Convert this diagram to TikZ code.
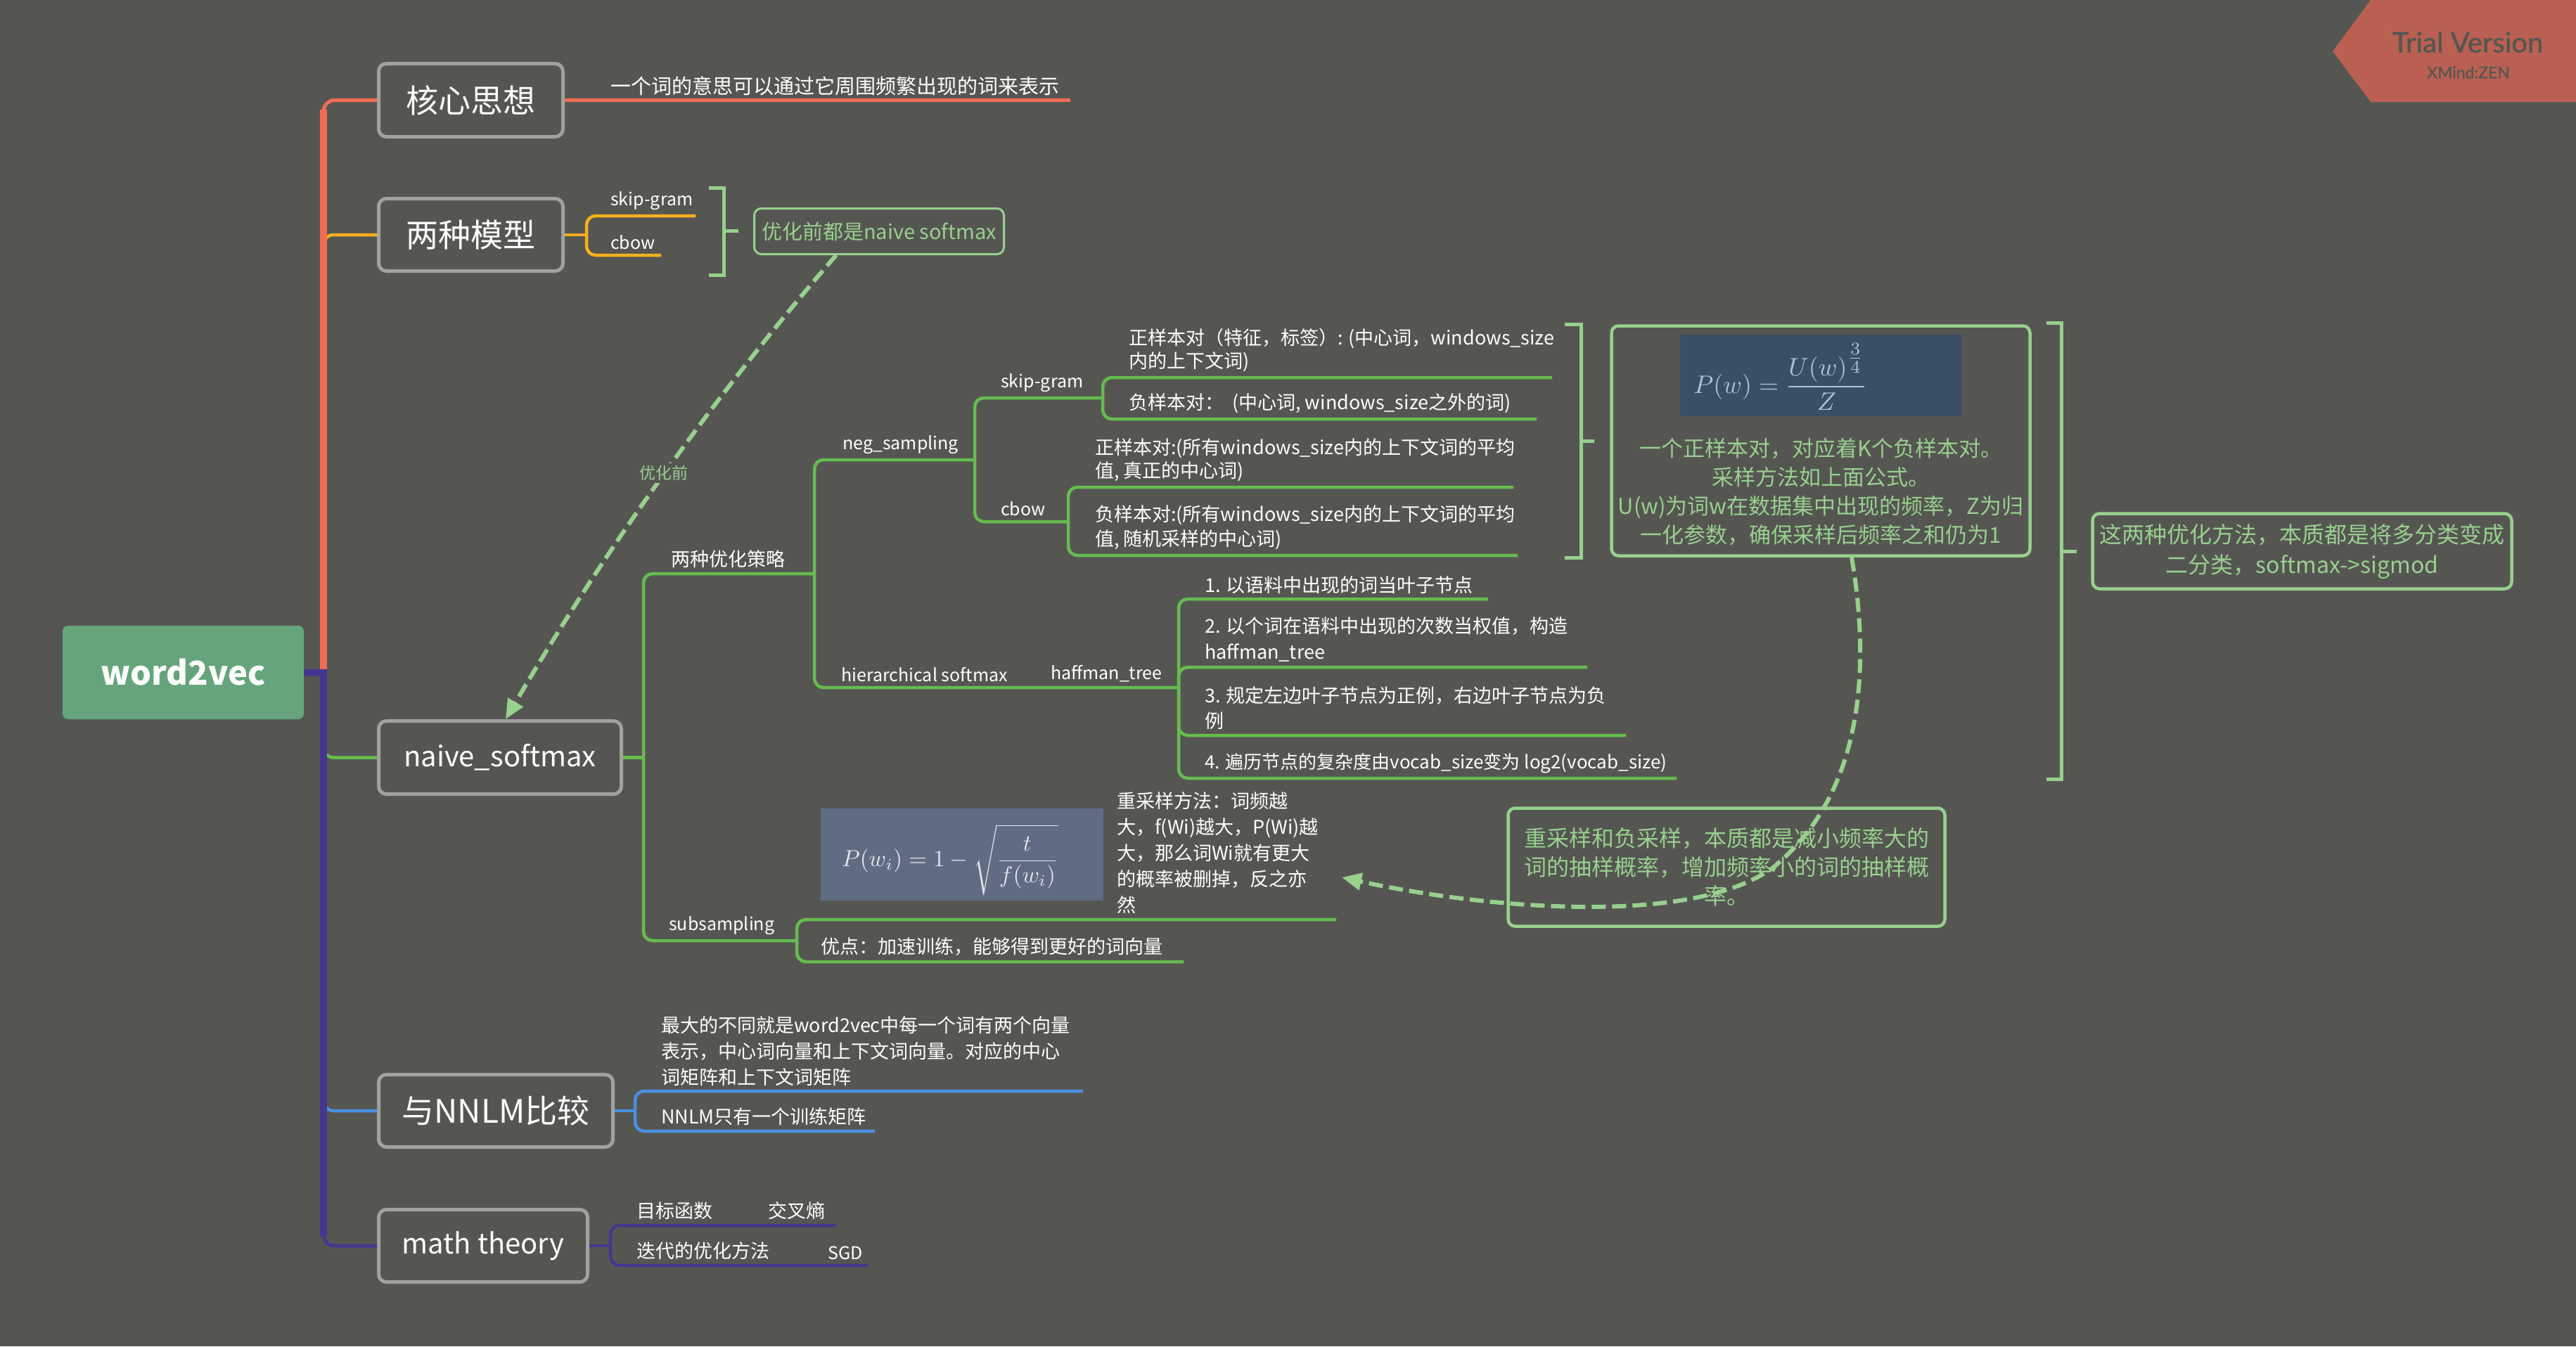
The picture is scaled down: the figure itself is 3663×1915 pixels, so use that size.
\documentclass[tikz,border=0pt]{standalone}
\usepackage{graphicx}
\usepackage{fontspec}
\setmainfont{Noto Sans CJK SC}
\newfontfamily\latofont{Lato}[FakeBold=1.2]
\usetikzlibrary{arrows.meta}
\definecolor{bg}{RGB}{85,86,82}
\definecolor{boxgray}{RGB}{160,162,157}
\definecolor{cred}{RGB}{242,108,85}
\definecolor{corange}{RGB}{245,176,30}
\definecolor{cgreen}{RGB}{102,188,79}
\definecolor{cblue}{RGB}{74,144,226}
\definecolor{cpurple}{RGB}{69,54,143}
\definecolor{lgreen}{RGB}{152,208,142}
\definecolor{rootgreen}{RGB}{102,165,123}
\definecolor{banner}{RGB}{186,96,82}
\definecolor{fonebg}{RGB}{58,78,102}
\definecolor{fonefg}{RGB}{168,196,222}
\definecolor{ftwobg}{RGB}{95,108,130}
\definecolor{ftwofg}{RGB}{228,231,236}
\newcommand{\myfs}[2]{\fontsize{#1}{#2}\selectfont}
\begin{document}
\begin{tikzpicture}[x=1pt,y=-1pt,
 topic/.style={draw=boxgray, line width=5pt, rounded corners=11pt, fill=bg, text=white, inner sep=0pt, font=\myfs{46}{55}},
 leaf/.style={text=white, inner sep=0pt, anchor=south west, align=left, font=\myfs{27}{35}},
 latinleaf/.style={leaf, font=\myfs{25}{32}},
 br/.style={line width=4.5pt, rounded corners=13pt},
 bracketline/.style={draw=lgreen, line width=5pt},
 callout/.style={draw=lgreen, line width=4.5pt, rounded corners=10pt, text=lgreen, align=center, inner sep=0pt, font=\myfs{32}{41}},
 dasharrow/.style={draw=lgreen, line width=6pt, dash pattern=on 20pt off 9pt, -{Triangle[length=28pt,width=24pt,fill=lgreen]}},
]
\useasboundingbox (0,0) rectangle (3663,1915);
\fill[bg] (0,0) rectangle (3663,1915);

% banner
\fill[banner] (3317,73) -- (3371,0) -- (3663,0) -- (3663,145) -- (3371,145) -- cycle;
\node[text=bg, inner sep=0pt, font=\latofont\myfs{40}{48}] (trial) at (3509,60) {Trial Version};
\node[text=bg, inner sep=0pt, font=\latofont\myfs{23}{26}] (xmind) at (3510,103) {XMind:ZEN};

% main topics
\node[fill=rootgreen, rounded corners=8pt, minimum width=343, minimum height=133, inner sep=0pt, text=white, font=\bfseries\myfs{47}{55}] (root) at (260.5,956.5) {word2vec};
\node[topic, minimum width=262, minimum height=104] (core) at (669.5,142.5) {核心思想};
\node[topic, minimum width=262, minimum height=103] (models) at (669.5,334) {两种模型};
\node[topic, minimum width=345, minimum height=104, font=\myfs{40}{48}] (naive) at (711,1077.5) {naive\_softmax};
\node[topic, minimum width=333, minimum height=103] (nnlm) at (705,1580) {与NNLM比较};
\node[topic, minimum width=297, minimum height=103, font=\myfs{40}{48}] (math) at (687,1772) {math theory};

% spine and main branches
\draw[corange, line width=4.5pt, rounded corners=14pt] (460,420) -- (460,334) -- (models.west);
\draw[cgreen, line width=4.5pt, rounded corners=14pt] (460,1000) -- (460,1077.5) -- (naive.west);
\draw[cblue, line width=4.5pt, rounded corners=14pt] (460,1450) -- (460,1580) -- (nnlm.west);
\draw[cred, line width=5pt, rounded corners=16pt] (460,200) -- (460,142.5) -- (core.west);
\draw[cred, line width=10pt] (460,952) -- (460,156);
\draw[cpurple, line width=5pt, rounded corners=16pt] (460,1700) -- (460,1772) -- (math.west);
\draw[cpurple, line width=10pt] (460,952) -- (460,1759);
\draw[cpurple, line width=10pt] (root.east) -- (465,957);

% core idea
\coordinate (coreend) at (1522,142.5);
\draw[cred, line width=4.5pt] (core.east) -- (coreend);
\node[leaf, font=\myfs{29}{35}] (coretxt) at (868,136) {一个词的意思可以通过它周围频繁出现的词来表示};

% two models
\coordinate (mv) at (834,334);
\draw[corange, line width=4.5pt] (models.east) -- (mv);
\draw[corange, br] (mv) -- (834,307) -- (989,307);
\draw[corange, br] (mv) -- (834,363) -- (940,363);
\node[latinleaf] (msg) at (868,299) {skip-gram};
\node[latinleaf] (mcb) at (868,355) {cbow};
\draw[bracketline] (1008,267) -- (1029,267) -- (1029,391) -- (1008,391);
\draw[bracketline] (1029,328) -- (1050,328);
\node[callout, line width=3pt, font=\myfs{29}{38}, minimum width=355, minimum height=65] (before) at (1250,329) {优化前都是naive softmax};

% naive_softmax subtree
\coordinate (nv) at (915,1077.5);
\draw[cgreen, line width=4.5pt] (naive.east) -- (nv);
\draw[cgreen, br] (nv) -- (915,816) -- (1158,816);
\draw[cgreen, br] (nv) -- (915,1338) -- (1133,1338);
\node[leaf] (twoopt) at (954,808) {两种优化策略};
\node[latinleaf] (subs) at (951,1330) {subsampling};

\draw[cgreen, br] (1158,816) -- (1158,654) -- (1386,654);
\draw[cgreen, br] (1158,816) -- (1158,978) -- (1676,978);
\node[latinleaf] (negs) at (1198,646) {neg\_sampling};
\node[latinleaf] (hier) at (1196,970) {hierarchical softmax};
\node[latinleaf] (haff) at (1494,970) {haffman\_tree};

\draw[cgreen, br] (1386,654) -- (1386,566) -- (1568,566);
\draw[cgreen, br] (1386,654) -- (1386,742) -- (1519,742);
\node[latinleaf] (nsg) at (1423,558) {skip-gram};
\node[latinleaf] (ncb) at (1423,734) {cbow};

\draw[cgreen, br] (1568,566) -- (1568,537) -- (2207,537);
\draw[cgreen, br] (1568,566) -- (1568,596) -- (2185,596);
\node[leaf, font=\myfs{27}{33}] (sgone) at (1605,529) {正样本对（特征，标签）: (中心词，windows\_size\\内的上下文词)};
\node[leaf] (sgtwo) at (1605,588) {负样本对：\ \ (中心词, windows\_size之外的词)};

\draw[cgreen, br] (1519,742) -- (1519,693) -- (2152,693);
\draw[cgreen, br] (1519,742) -- (1519,790) -- (2158,790);
\node[leaf, font=\myfs{27}{33}] (cbone) at (1557,685) {正样本对:(所有windows\_size内的上下文词的平均\\值, 真正的中心词)};
\node[leaf, font=\myfs{27}{35}] (cbtwo) at (1557,782) {负样本对:(所有windows\_size内的上下文词的平均\\值, 随机采样的中心词)};

\draw[cgreen, br] (1676,978) -- (1676,852) -- (2116,852);
\draw[cgreen, br] (1676,978) -- (1676,949) -- (2257,949);
\draw[cgreen, br] (1676,978) -- (1676,1046) -- (2312,1046);
\draw[cgreen, br] (1676,978) -- (1676,1107) -- (2384,1107);
\node[leaf] (hone) at (1713,845) {1. 以语料中出现的词当叶子节点};
\node[leaf, font=\myfs{27}{37}] (htwo) at (1713,941) {2. 以个词在语料中出现的次数当权值，构造\\haffman\_tree};
\node[leaf, font=\myfs{27}{36}] (hthree) at (1713,1038) {3. 规定左边叶子节点为正例，右边叶子节点为负\\例};
\node[leaf, font=\myfs{26}{34}] (hfour) at (1713,1100) {4. 遍历节点的复杂度由vocab\_size变为 log2(vocab\_size)};

% brackets and summaries
\draw[bracketline] (2225,461) -- (2248,461) -- (2248,793) -- (2225,793);
\draw[bracketline] (2248,627) -- (2267,627);
\node[callout, minimum width=595, minimum height=327] (negbox) at (2589,627) {};
\node[fill=fonebg, minimum width=400, minimum height=116, inner sep=0pt] (fone) at (2589,534) {};
\node[text=fonefg, inner sep=0pt] (fonetxt) at (2532,536) {\scalebox{3.6}{$\displaystyle P(w)=\frac{U(w)^{\textstyle\frac{3}{4}}}{Z}$}};
\node[text=lgreen, align=center, inner sep=0pt, font=\myfs{31}{41}] (negtxt) at (2589,700) {一个正样本对，对应着K个负样本对。\\采样方法如上面公式。\\U(w)为词w在数据集中出现的频率，Z为归\\一化参数，确保采样后频率之和仍为1};

\draw[bracketline] (2910,459) -- (2931,459) -- (2931,1108) -- (2910,1108);
\draw[bracketline] (2931,784) -- (2953,784);
\node[callout, minimum width=596, minimum height=107, font=\myfs{32}{43}] (twobox) at (3273.5,784) {这两种优化方法，本质都是将多分类变成\\二分类，softmax->sigmod};

% subsampling leaves
\draw[cgreen, br] (1133,1338) -- (1133,1308) -- (1900,1308);
\draw[cgreen, br] (1133,1338) -- (1133,1368) -- (1683,1368);
\node[fill=ftwobg, minimum width=402, minimum height=131, inner sep=0pt] (ftwo) at (1368,1215.5) {};
\node[text=ftwofg, inner sep=0pt] (ftwotxt) at (1351,1223) {\scalebox{3.3}{$\displaystyle P(w_i)=1-\sqrt{\frac{t}{f(w_i)}}$}};
\node[leaf, font=\myfs{27}{37}] (ssone) at (1588,1300) {重采样方法：词频越\\大，f(Wi)越大，P(Wi)越\\大，那么词Wi就有更大\\的概率被删掉，反之亦\\然};
\node[leaf] (sstwo) at (1167,1360) {优点：加速训练，能够得到更好的词向量};

\node[callout, minimum width=621, minimum height=168] (resbox) at (2455,1233.5) {重采样和负采样，本质都是减小频率大的\\词的抽样概率，增加频率小的词的抽样概\\率。};

% NNLM
\coordinate (bv) at (903,1580);
\draw[cblue, line width=4.5pt] (nnlm.east) -- (bv);
\draw[cblue, br] (bv) -- (903,1552) -- (1540,1552);
\draw[cblue, br] (bv) -- (903,1609) -- (1244,1609);
\node[leaf, font=\myfs{27}{37}] (nnone) at (940,1545) {最大的不同就是word2vec中每一个词有两个向量\\表示，中心词向量和上下文词向量。对应的中心\\词矩阵和上下文词矩阵};
\node[leaf] (nntwo) at (940,1601) {NNLM只有一个训练矩阵};

% math theory
\coordinate (pv) at (868,1772);
\draw[cpurple, line width=4.5pt] (math.east) -- (pv);
\draw[cpurple, br] (pv) -- (868,1743) -- (1188,1743);
\draw[cpurple, br] (pv) -- (868,1800) -- (1234,1800);
\node[leaf] (mobj) at (905,1735) {目标函数};
\node[leaf] (mce) at (1092,1735) {交叉熵};
\node[leaf] (mopt) at (905,1792) {迭代的优化方法};
\node[latinleaf] (msgd) at (1177,1792) {SGD};

% dashed arrows
\coordinate (aones) at (1189,363);
\coordinate (aonee) at (719,1023);
\draw[dasharrow] (aones) .. controls (1012,567) and (856,789) .. (aonee);
\node[fill=bg, text=lgreen, inner sep=3pt, font=\myfs{23}{28}] (lblbefore) at (944,673) {优化前};

\coordinate (atwos) at (2633,793);
\coordinate (atwoe) at (1908,1248);
\draw[dasharrow] (atwos) .. controls (2660,950) and (2650,1130) .. (2520,1235) .. controls (2400,1320) and (2100,1290) .. (atwoe);
\end{tikzpicture}
\end{document}
